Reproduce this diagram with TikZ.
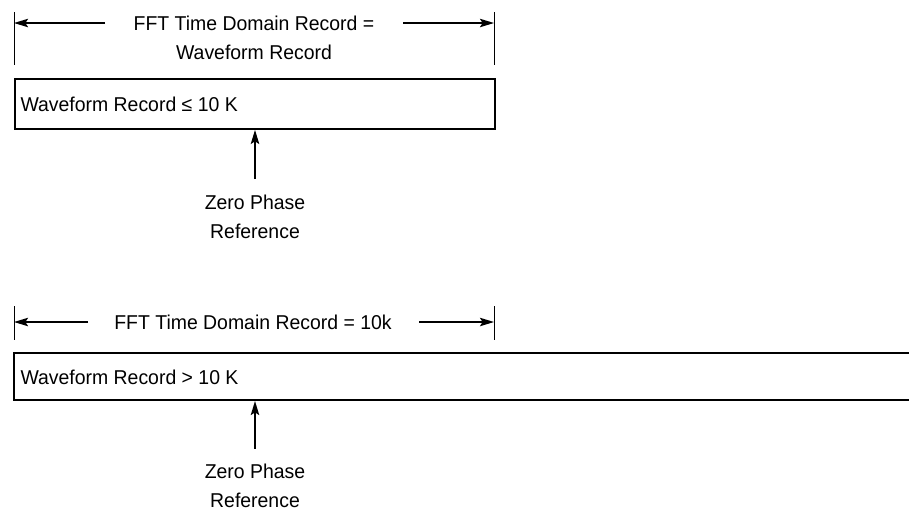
\documentclass[tikz,border=0pt]{standalone}
\usepackage{fontspec}
\setmainfont{Liberation Sans}[FakeStretch=0.97]
\usetikzlibrary{arrows.meta}

\begin{document}
\begin{tikzpicture}[x=0.02cm, y=-0.02cm, line width=0.6pt,
    >={Stealth[length=8pt, width=4.8pt, inset=1.5pt]},
    txt/.style={font=\fontsize{11.4}{16.5}\selectfont, inner sep=0pt},
    recbox/.style={draw, line width=1.1pt, inner sep=0pt, anchor=north west}]
  \useasboundingbox (0,0) rectangle (909,512);
  % upper record
  \draw[line width=0.5pt] (14,12) -- (14,65);
  \draw[line width=0.5pt] (494,12) -- (494,65);
  \node[txt, align=center] (fftA) at (254,37.5) {FFT Time Domain Record =\\Waveform Record};
  \coordinate (leftA) at (14,23);
  \coordinate (rightA) at (494,23);
  \draw[->, line width=0.8pt] (105,23) -- (leftA);
  \draw[->, line width=0.8pt] (403,23) -- (rightA);
  \node[recbox, minimum width=9.6cm, minimum height=1cm] (boxA) at (14,78) {};
  \node[txt, anchor=west] (recA) at (20,104) {Waveform Record ≤ 10 K};
  \node[txt, align=center] (zeroA) at (255,216.5) {Zero Phase\\Reference};
  \draw[->, line width=0.9pt] ([yshift=0.3cm]zeroA.north) -- (zeroA |- boxA.south);
  % lower record
  \draw[line width=0.5pt] (14,306) -- (14,340);
  \draw[line width=0.5pt] (494,306) -- (494,340);
  \node[txt] (fftB) at (253,322) {FFT Time Domain Record = 10k};
  \coordinate (leftB) at (14,322);
  \coordinate (rightB) at (494,322);
  \draw[->, line width=0.8pt] (88,322) -- (leftB);
  \draw[->, line width=0.8pt] (419,322) -- (rightB);
  \draw[line width=1.1pt] (909,353) -- (14,353) -- (14,400) -- (909,400);
  \coordinate (boxB) at (255,401);
  \node[txt, anchor=west] (recB) at (20,377) {Waveform Record > 10 K};
  \node[txt, align=center] (zeroB) at (255,486) {Zero Phase\\Reference};
  \draw[->, line width=0.9pt] ([yshift=0.3cm]zeroB.north) -- (boxB);
\end{tikzpicture}
\end{document}
